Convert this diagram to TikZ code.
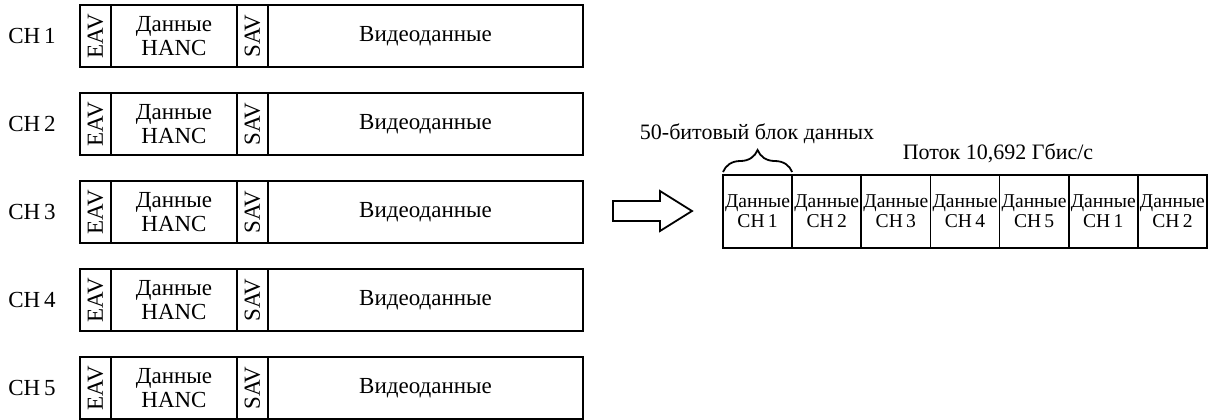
\documentclass[tikz,border=0pt]{standalone}
\usepackage{fontspec}
\setmainfont{Liberation Serif}
\usetikzlibrary{positioning,decorations.pathreplacing}

\tikzset{
  cell/.style={draw,line width=.9pt,inner sep=0pt,outer sep=0pt,
    minimum height=31pt,align=center,font=\fontsize{11.5}{12}\selectfont},
  slot/.style={draw,line width=.9pt,inner sep=0pt,outer sep=0pt,anchor=north west,
    minimum width=34.57pt,minimum height=36.5pt,align=center,font=\fontsize{9.8}{10}\selectfont},
  txt/.style={inner sep=0pt,font=\fontsize{11.5}{13}\selectfont}
}

\begin{document}
\begin{tikzpicture}[x=0.5pt,y=-0.5pt]
\useasboundingbox (0,0) rectangle (1208,419);

% channel lines
\foreach \i in {1,...,5}{
  \pgfmathsetmacro\rowtop{5+88*(\i-1)}
  \node[cell,anchor=north west,minimum width=15.5pt] (eav\i) at (80,\rowtop) {\rotatebox{90}{EAV}};
  \node[cell,right=0pt of eav\i,minimum width=63pt] (hanc\i) {Данные\\HANC};
  \node[cell,right=0pt of hanc\i,minimum width=15.5pt] (sav\i) {\rotatebox{90}{SAV}};
  \node[cell,right=0pt of sav\i,minimum width=157.5pt] (video\i) {Видеоданные};
  \node[txt,left=12pt of eav\i] (ch\i) {CH\,\i};
}

% hollow arrow
\draw[line width=.9pt,line join=miter] (613,201) -- (660,201) -- (660,191) -- (692,211)
  -- (660,231) -- (660,221) -- (613,221) -- cycle;

% stream
\foreach \n [count=\k] in {1,2,3,4,5,1,2}{
  \node[slot] (s\k) at ({723+69.14*(\k-1)},175) {Данные\\CH\,\n};
}

\draw[line width=.9pt,decorate,decoration={brace,amplitude=11pt,raise=1.5pt}]
  (s1.north west) -- (s1.north east);
\node[txt,font=\fontsize{11}{13}\selectfont] (blk) at (757,134) {50-битовый блок данных};
\node[txt,font=\fontsize{11}{13}\selectfont] (rate) at (998,153) {Поток 10,692 Гбис/с};

\end{tikzpicture}
\end{document}
